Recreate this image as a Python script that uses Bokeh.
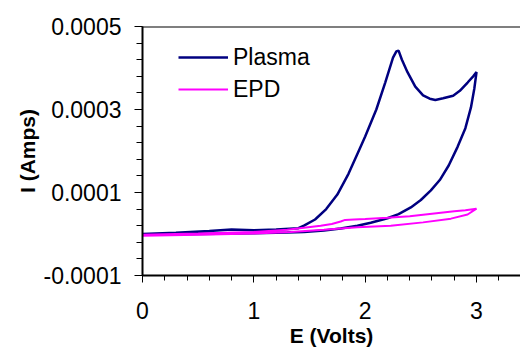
import numpy as np
from bokeh.plotting import figure
from bokeh.models import FixedTicker, PrintfTickFormatter, Span, Range1d, Title
from bokeh.embed import file_html
from bokeh.resources import INLINE

# Plasma cyclic voltammogram (forward then reverse scan)
plasma_fwd_e = [0.0, 0.3, 0.6, 0.8, 1.0, 1.2, 1.4, 1.45, 1.55, 1.65, 1.75, 1.85, 1.95, 2.0, 2.1, 2.18, 2.25, 2.28, 2.3, 2.33, 2.38, 2.45, 2.52, 2.58, 2.63, 2.7, 2.79, 2.85, 2.92, 2.97, 3.0]
plasma_fwd_i = [0.0, 3e-6, 7e-6, 1.1e-5, 9e-6, 1.1e-5, 1.4e-5, 2.0e-5, 3.5e-5, 6.0e-5, 9.5e-5, 1.45e-4, 2.05e-4, 2.35e-4, 3.0e-4, 3.65e-4, 4.25e-4, 4.4e-4, 4.42e-4, 4.2e-4, 3.9e-4, 3.55e-4, 3.34e-4, 3.26e-4, 3.23e-4, 3.27e-4, 3.33e-4, 3.45e-4, 3.65e-4, 3.8e-4, 3.9e-4]
plasma_rev_e = [2.98, 2.95, 2.9, 2.83, 2.75, 2.67, 2.59, 2.5, 2.41, 2.3, 2.2, 2.05, 1.93, 1.78, 1.63, 1.45, 1.3, 1.0, 0.5, 0.0]
plasma_rev_i = [3.5e-4, 3.05e-4, 2.55e-4, 2.1e-4, 1.65e-4, 1.3e-4, 1.05e-4, 8.2e-5, 6.4e-5, 4.8e-5, 3.8e-5, 2.7e-5, 2.0e-5, 1.3e-5, 8.5e-6, 5e-6, 3.5e-6, 2e-6, 0.0, -2e-6]

# EPD cyclic voltammogram
epd_fwd_e = [0.0, 0.5, 1.0, 1.3, 1.6, 1.7, 1.78, 1.82, 1.9, 2.0, 2.2, 2.4, 2.6, 2.8, 2.9, 3.0]
epd_fwd_i = [-2e-6, 1e-6, 5e-6, 1e-5, 2e-5, 2.4e-5, 3.0e-5, 3.4e-5, 3.5e-5, 3.6e-5, 3.9e-5, 4.3e-5, 4.9e-5, 5.5e-5, 5.7e-5, 6.1e-5]
epd_rev_e = [2.92, 2.77, 2.52, 2.23, 1.93, 1.63, 1.33, 1.0, 0.5, 0.0]
epd_rev_i = [4.7e-5, 3.7e-5, 2.8e-5, 2.0e-5, 1.6e-5, 1.0e-5, 5e-6, 1e-6, -2e-6, -4e-6]

x_ticks = [0, 1, 2, 3]
y_ticks = [-0.0001, 0.0001, 0.0003, 0.0005]
x_min, x_max = 0.0, 3.395
y_min, y_max = -0.0001, 0.0005
x_title = "E (Volts)"
y_title = "I (Amps)"

FONT = "Liberation Sans"

p = figure(width=520, height=350, output_backend="svg", toolbar_location=None,
           x_range=Range1d(x_min, x_max), y_range=Range1d(y_min, y_max),
           min_border_left=142, min_border_right=0, min_border_top=26, min_border_bottom=75)
p.outline_line_color = None
p.xgrid.visible = False
p.ygrid.visible = False
p.background_fill_color = "white"
p.border_fill_color = "white"

p.line(plasma_fwd_e + plasma_rev_e, plasma_fwd_i + plasma_rev_i,
       line_color="#000080", line_width=2.5, legend_label="Plasma")
p.line(epd_fwd_e + epd_rev_e, epd_fwd_i + epd_rev_i,
       line_color="#FF00FF", line_width=2, legend_label="EPD")

# top border of plot area
p.add_layout(Span(location=y_max, dimension="width", line_color="black", line_width=2))

xa = p.xaxis[0]
xa.ticker = FixedTicker(ticks=x_ticks, minor_ticks=list(np.round(np.arange(0, 3.41, 0.2), 2)))
ya = p.yaxis[0]
ya.ticker = FixedTicker(ticks=y_ticks, minor_ticks=list(np.arange(-0.0001, 0.00051, 0.00004)))
ya.formatter = PrintfTickFormatter(format="%.4f")

for ax in (xa, ya):
    ax.axis_line_width = 2
    ax.axis_line_color = "black"
    ax.major_tick_line_color = "black"
    ax.minor_tick_line_color = "black"
    ax.major_tick_line_width = 1
    ax.minor_tick_line_width = 1
    ax.major_tick_in = 0
    ax.minor_tick_in = 0
    ax.major_label_text_font = FONT
    ax.major_label_text_font_size = "23px"
    ax.major_label_text_color = "black"

xa.major_tick_out = 7
xa.minor_tick_out = 5
xa.major_label_standoff = 19
ya.major_tick_out = 8
ya.minor_tick_out = 6
ya.major_label_standoff = 13

# axis titles (side titles so they can be nudged along the axis)
p.add_layout(Title(text=x_title, align="center", offset=5, standoff=1,
                   text_font=FONT, text_font_size="21px", text_font_style="bold",
                   text_color="black"), "below")
p.add_layout(Title(text=y_title, align="center", offset=9, standoff=4,
                   text_font=FONT, text_font_size="21px", text_font_style="bold",
                   text_color="black"), "left")

lg = p.legend[0]
lg.border_line_color = None
lg.background_fill_alpha = 0
lg.padding = 0
lg.margin = 0
lg.spacing = 2
lg.glyph_width = 50
lg.glyph_height = 30
lg.label_height = 30
lg.label_standoff = 5
lg.label_text_font = FONT
lg.label_text_font_size = "23px"
lg.label_text_color = "black"
lg.location = (36, 171)

open("out.html", "w").write(file_html(p, INLINE))
